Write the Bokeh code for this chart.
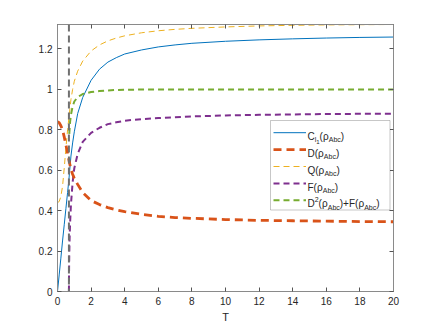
from bokeh.plotting import figure
from bokeh.models import (Range1d, FixedTicker, LinearAxis, CustomJSTickFormatter,
                          Span, BoxAnnotation, Arrow, Label)
from bokeh.embed import file_html
from bokeh.resources import INLINE

# ---------------- data ----------------
T = [0, 0.1, 0.2, 0.3, 0.4, 0.5, 0.6, 0.68, 0.8, 0.9, 1.0, 1.2, 1.5, 2, 2.5, 3, 3.5, 4, 5, 6, 7, 8, 10, 12, 14,
     16, 18, 20]
C_l1 = [0, 0.082, 0.165, 0.25, 0.33, 0.41, 0.49, 0.555, 0.67, 0.735, 0.79, 0.88, 0.96, 1.045, 1.10, 1.135, 1.157,
        1.175, 1.195, 1.21, 1.22, 1.228, 1.238, 1.245, 1.25, 1.254, 1.257, 1.259]
D = [0.84, 0.835, 0.82, 0.80, 0.765, 0.725, 0.685, 0.65, 0.605, 0.58, 0.56, 0.53, 0.49, 0.45, 0.43, 0.415, 0.404,
     0.395, 0.382, 0.372, 0.366, 0.362, 0.356, 0.352, 0.35, 0.348, 0.346, 0.345]
Q = [0.44, 0.445, 0.47, 0.52, 0.61, 0.71, 0.80, 0.86, 0.95, 1.0, 1.04, 1.09, 1.14, 1.19, 1.22, 1.24, 1.254,
     1.265, 1.28, 1.29, 1.297, 1.302, 1.309, 1.314, 1.317, 1.319, 1.32, 1.321]

T_F = [0.68, 0.69, 0.7, 0.72, 0.75, 0.8, 0.9, 1.0, 1.2, 1.5, 2, 2.5, 3, 3.5, 4, 5, 6, 7, 8, 10, 12, 14, 16, 18, 20]
F = [0, 0.12, 0.18, 0.26, 0.34, 0.43, 0.54, 0.61, 0.68, 0.74, 0.785, 0.81, 0.828, 0.837, 0.845, 0.853, 0.858,
     0.862, 0.866, 0.871, 0.874, 0.876, 0.878, 0.879, 0.88]

T_G = [0.7, 0.75, 0.8, 0.9, 1.0, 1.2, 1.5, 2, 2.5, 3, 3.5, 4, 5, 6, 7, 8, 10, 12, 14, 16, 18, 20]
G = [0.78, 0.84, 0.875, 0.915, 0.94, 0.962, 0.977, 0.987, 0.992, 0.995, 0.997, 0.998, 0.999, 1.0, 1.0, 1.0, 1.0,
     1.0, 1.0, 1.0, 1.0, 1.0]

T_threshold = 0.68

x_ticks = [0, 2, 4, 6, 8, 10, 12, 14, 16, 18, 20]
y_ticks = [0, 0.2, 0.4, 0.6, 0.8, 1, 1.2]

# ---------------- styling ----------------
FONT = "Liberation Sans"
AXC = "#8a8a8a"
TXT = "#262626"
BLUE, ORANGE, YELLOW, PURPLE, GREEN, GRAY = "#0072BD", "#D95319", "#EDB120", "#7E2F8E", "#77AC30", "#707070"

y_top = max(max(Q), max(C_l1))

p = figure(width=434, height=326, output_backend="svg", toolbar_location=None,
           x_range=Range1d(T[0], T[-1]), y_range=Range1d(0, y_top),
           min_border_left=57, min_border_right=41, min_border_top=24, min_border_bottom=35)
p.grid.visible = False
p.outline_line_color = AXC
p.outline_line_width = 1
p.background_fill_color = "white"
p.border_fill_color = "white"


def style_axis(ax, ticks, show_labels=True):
    ax.ticker = FixedTicker(ticks=ticks)
    ax.minor_tick_line_color = None
    ax.major_tick_in = 4
    ax.major_tick_out = 0
    ax.major_tick_line_color = "#555555"
    ax.axis_line_color = AXC
    ax.major_label_text_font = FONT
    ax.major_label_text_font_size = "10px"
    ax.major_label_text_color = TXT
    ax.major_label_standoff = 5
    if not show_labels:
        ax.formatter = CustomJSTickFormatter(code="return ''")
        ax.major_label_standoff = 0
    else:
        ax.formatter = CustomJSTickFormatter(code="return tick.toString()")


style_axis(p.xaxis[0], x_ticks)
style_axis(p.yaxis[0], y_ticks)
p.xaxis[0].axis_label = "T"
p.xaxis[0].axis_label_text_font = FONT
p.xaxis[0].axis_label_text_font_size = "11px"
p.xaxis[0].axis_label_text_font_style = "normal"
p.xaxis[0].axis_label_text_color = TXT
p.xaxis[0].axis_label_standoff = 3

top_ax = LinearAxis()
style_axis(top_ax, x_ticks, show_labels=False)
p.add_layout(top_ax, "above")
right_ax = LinearAxis()
style_axis(right_ax, y_ticks, show_labels=False)
p.add_layout(right_ax, "right")

# ---------------- curves ----------------
p.line(T, Q, line_color=YELLOW, line_width=1, line_dash="6 4")
p.line(T, C_l1, line_color=BLUE, line_width=1)
p.line(T_F, F, line_color=PURPLE, line_width=2, line_dash="6 4")
p.line(T_G, G, line_color=GREEN, line_width=2, line_dash="6 4")
p.line(T, D, line_color=ORANGE, line_width=2.8, line_dash="8 5")
p.add_layout(Span(location=T_threshold, dimension="height", line_color=GRAY,
                  line_width=2, line_dash="7 4"))

# ---------------- legend (drawn manually for sub/superscripts) ----------------
BOX_L, BOX_R, BOX_B, BOX_T = 213, 332.5, 81.5, 171
p.add_layout(BoxAnnotation(left=BOX_L, right=BOX_R, bottom=BOX_B, top=BOX_T,
                           left_units="screen", right_units="screen",
                           bottom_units="screen", top_units="screen",
                           fill_color="white", fill_alpha=1.0,
                           line_color="#444444", line_width=1))

W = {'C': 0.722, 'D': 0.722, 'Q': 0.778, 'F': 0.611, '(': 0.333, ')': 0.333, '+': 0.584,
     'l': 0.222, '1': 0.556, '2': 0.556, 'A': 0.667, 'b': 0.556, 'c': 0.5, 'ρ': 0.578}


def tw(s, size):
    return sum(W[ch] for ch in s) * size


rows = [
    (BLUE, 1, None, [("C", 10, 0), ("l", 7, -3.5), ("1", 6, -6), ("(ρ", 10, 0), ("Abc", 7, -3.5), (")", 10, 0)]),
    (ORANGE, 2.8, "8 5", [("D(ρ", 10, 0), ("Abc", 7, -3.5), (")", 10, 0)]),
    (YELLOW, 1, "6 4", [("Q(ρ", 10, 0), ("Abc", 7, -3.5), (")", 10, 0)]),
    (PURPLE, 2, "6 4", [("F(ρ", 10, 0), ("Abc", 7, -3.5), (")", 10, 0)]),
    (GREEN, 2, "6 4", [("D", 10, 0), ("2", 7, 4.5), ("(ρ", 10, 0), ("Abc", 7, -3.5),
                       (")+F(ρ", 10, 0), ("Abc", 7, -3.5), (")", 10, 0)]),
]
row_y0, row_step = 158.8, 16.9
for i, (col, lw, dash, segs) in enumerate(rows):
    ry = row_y0 - i * row_step
    kw = dict(line_color=col, line_width=lw)
    if dash:
        kw["line_dash"] = dash
    p.add_layout(Arrow(end=None, x_start=216, y_start=ry, x_end=248.5, y_end=ry,
                       start_units="screen", end_units="screen", **kw))
    x = 250
    base = ry - 3.6
    for txt, size, dy in segs:
        p.add_layout(Label(x=x, y=base + dy, x_units="screen", y_units="screen", text=txt,
                           text_font=FONT, text_font_size=f"{size}px", text_color=TXT,
                           text_baseline="alphabetic", text_align="left"))
        x += tw(txt, size)

open("out.html", "w").write(file_html(p, INLINE))
